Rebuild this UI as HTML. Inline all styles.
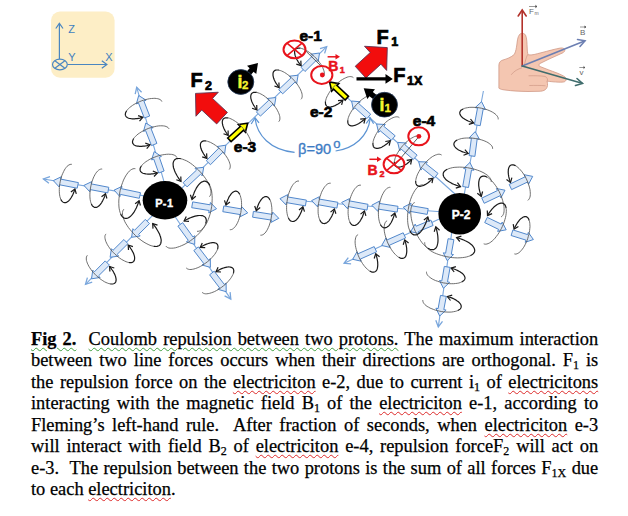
<!DOCTYPE html>
<html><head><meta charset="utf-8"><style>
html,body{margin:0;padding:0;background:#fff;}
body{width:628px;height:516px;position:relative;overflow:hidden;}
.ln{position:absolute;left:31.0px;width:567.20px;font-family:"Liberation Serif",serif;font-size:18.4px;line-height:20px;height:20px;
 text-align:justify;text-align-last:justify;white-space:nowrap;transform:scaleX(1.0);transform-origin:0 0;color:#000;-webkit-text-stroke:0.25px #000;}
.ln.last{text-align-last:left;}
.ln sub{font-size:12px;vertical-align:-3px;line-height:0;}
u.r{text-decoration:underline wavy #dd2a2a;text-decoration-thickness:0.6px;text-underline-offset:1.5px;}
u.g{text-decoration:underline wavy #3f9f3f;text-decoration-thickness:0.6px;text-underline-offset:1.5px;}
</style></head><body>
<svg width="628" height="330" viewBox="0 0 628 330" style="position:absolute;left:0;top:0"><g>
<rect x="51" y="11.5" width="63.6" height="66.2" rx="9" fill="#fdeec6"/>
<g stroke="#4a86c0" stroke-width="1.2" fill="none">
<line x1="59.4" y1="59" x2="59.4" y2="23.8"/><path d="M55.8,28.5 L59.4,23.4 L63,28.5"/>
<line x1="67.5" y1="64.5" x2="106.5" y2="64.5"/><path d="M101.8,60.8 L106.9,64.5 L101.8,68.2"/>
<ellipse cx="59.9" cy="64.5" rx="7.4" ry="5.4"/>
<line x1="55.2" y1="60.9" x2="64.6" y2="68.1"/><line x1="55.2" y1="68.1" x2="64.6" y2="60.9"/>
</g>
<g fill="#3f7fbf" font-family="Liberation Sans" font-size="11">
<text x="68.3" y="33.3">Z</text><text x="68.3" y="61.2">Y</text><text x="105.2" y="61.2">X</text>
</g></g><line x1="169.0" y1="198.9" x2="136.7" y2="87.3" stroke="#79a6dc" stroke-width="1.1"/><path d="M141.6,92.3 L136.7,87.3 L135.2,94.1" fill="none" stroke="#79a6dc" stroke-width="1.3"/><line x1="165.1" y1="199.4" x2="43.4" y2="179.0" stroke="#79a6dc" stroke-width="1.1"/><path d="M50.0,176.7 L43.4,179.0 L48.9,183.3" fill="none" stroke="#79a6dc" stroke-width="1.3"/><line x1="167.3" y1="202.3" x2="326.7" y2="46.7" stroke="#79a6dc" stroke-width="1.1"/><path d="M324.6,53.4 L326.7,46.7 L320.0,48.6" fill="none" stroke="#79a6dc" stroke-width="1.3"/><line x1="164.2" y1="200.5" x2="230.8" y2="299.1" stroke="#79a6dc" stroke-width="1.1"/><path d="M224.6,295.9 L230.8,299.1 L230.1,292.1" fill="none" stroke="#79a6dc" stroke-width="1.3"/><line x1="166.3" y1="201.3" x2="85.5" y2="284.3" stroke="#79a6dc" stroke-width="1.1"/><path d="M87.4,277.6 L85.5,284.3 L92.2,282.2" fill="none" stroke="#79a6dc" stroke-width="1.3"/><line x1="460.6" y1="214.0" x2="483.4" y2="91.0" stroke="#79a6dc" stroke-width="1.1"/><line x1="454.5" y1="213.1" x2="438.3" y2="326.9" stroke="#79a6dc" stroke-width="1.1"/><path d="M435.8,320.3 L438.3,326.9 L442.5,321.3" fill="none" stroke="#79a6dc" stroke-width="1.3"/><line x1="459.7" y1="213.3" x2="280.0" y2="199.2" stroke="#79a6dc" stroke-width="1.1"/><line x1="458.1" y1="210.3" x2="344.1" y2="263.3" stroke="#79a6dc" stroke-width="1.1"/><path d="M348.3,257.7 L344.1,263.3 L351.1,263.8" fill="none" stroke="#79a6dc" stroke-width="1.3"/><line x1="455.0" y1="194.0" x2="347.2" y2="97.7" stroke="#79a6dc" stroke-width="1.1"/><polygon points="144.3,118.0 138.5,103.1 136.4,103.9 138.7,95.5 146.1,100.2 143.9,101.0 149.7,116.0" fill="#dde9f8" stroke="#5288cc" stroke-width="1.0" stroke-linejoin="miter"/><polygon points="151.5,145.6 145.6,130.6 143.5,131.4 145.8,123.0 153.2,127.6 151.0,128.5 156.9,143.4" fill="#dde9f8" stroke="#5288cc" stroke-width="1.0" stroke-linejoin="miter"/><polygon points="158.7,173.0 153.8,159.2 151.6,159.9 154.2,151.6 161.4,156.5 159.3,157.2 164.1,171.0" fill="#dde9f8" stroke="#5288cc" stroke-width="1.0" stroke-linejoin="miter"/><polygon points="77.2,188.2 59.6,184.8 59.2,187.0 53.3,180.6 61.2,176.8 60.7,179.1 78.4,182.6" fill="#dde9f8" stroke="#5288cc" stroke-width="1.0" stroke-linejoin="miter"/><polygon points="107.8,192.9 90.2,189.6 89.8,191.8 83.9,185.4 91.8,181.6 91.3,183.9 108.8,187.3" fill="#dde9f8" stroke="#5288cc" stroke-width="1.0" stroke-linejoin="miter"/><polygon points="139.3,198.3 120.4,194.4 119.9,196.6 114.1,190.1 122.0,186.4 121.5,188.7 140.5,192.7" fill="#dde9f8" stroke="#5288cc" stroke-width="1.0" stroke-linejoin="miter"/><polygon points="183.1,182.7 196.6,170.0 195.0,168.3 203.7,167.3 202.2,175.9 200.6,174.2 187.1,186.9" fill="#dde9f8" stroke="#5288cc" stroke-width="1.0" stroke-linejoin="miter"/><polygon points="206.3,160.7 218.8,148.1 217.2,146.5 225.8,145.2 224.6,153.8 222.9,152.2 210.5,164.7" fill="#dde9f8" stroke="#5288cc" stroke-width="1.0" stroke-linejoin="miter"/><polygon points="227.7,138.0 240.3,126.5 238.4,124.5 247.7,123.1 245.4,132.2 243.6,130.2 231.1,141.6" fill="#ffff00" stroke="#000" stroke-width="1.6" stroke-linejoin="miter"/><polygon points="256.4,111.9 268.8,100.2 267.2,98.5 275.9,97.5 274.4,106.1 272.8,104.4 260.4,116.1" fill="#dde9f8" stroke="#5288cc" stroke-width="1.0" stroke-linejoin="miter"/><polygon points="278.7,89.6 291.0,77.9 289.4,76.2 298.1,75.2 296.6,83.8 295.0,82.1 282.7,93.8" fill="#dde9f8" stroke="#5288cc" stroke-width="1.0" stroke-linejoin="miter"/><polygon points="301.0,67.3 312.5,55.9 310.9,54.2 319.5,53.0 318.2,61.6 316.6,60.0 305.0,71.5" fill="#dde9f8" stroke="#5288cc" stroke-width="1.0" stroke-linejoin="miter"/><polygon points="192.7,201.9 210.1,204.8 210.4,202.5 216.5,208.8 208.7,212.8 209.1,210.5 191.7,207.7" fill="#dde9f8" stroke="#5288cc" stroke-width="1.0" stroke-linejoin="miter"/><polygon points="223.8,205.9 241.3,208.9 241.7,206.6 247.7,212.9 239.9,216.9 240.3,214.6 222.8,211.7" fill="#dde9f8" stroke="#5288cc" stroke-width="1.0" stroke-linejoin="miter"/><polygon points="253.4,211.4 272.3,214.4 272.7,212.1 278.8,218.3 271.1,222.4 271.4,220.1 252.6,217.2" fill="#dde9f8" stroke="#5288cc" stroke-width="1.0" stroke-linejoin="miter"/><polygon points="182.7,222.7 193.0,237.0 194.8,235.7 194.7,244.4 186.4,241.8 188.3,240.4 177.9,226.1" fill="#dde9f8" stroke="#5288cc" stroke-width="1.0" stroke-linejoin="miter"/><polygon points="198.4,246.9 208.5,260.1 210.3,258.7 210.4,267.4 202.0,265.0 203.8,263.6 193.8,250.5" fill="#dde9f8" stroke="#5288cc" stroke-width="1.0" stroke-linejoin="miter"/><polygon points="214.2,271.2 224.3,284.4 226.1,283.0 226.2,291.7 217.8,289.3 219.6,287.9 209.6,274.8" fill="#dde9f8" stroke="#5288cc" stroke-width="1.0" stroke-linejoin="miter"/><polygon points="149.5,223.6 138.6,234.4 140.2,236.0 131.6,237.3 132.9,228.7 134.5,230.3 145.3,219.4" fill="#dde9f8" stroke="#5288cc" stroke-width="1.0" stroke-linejoin="miter"/><polygon points="127.9,243.7 117.1,254.4 118.7,256.1 110.1,257.3 111.4,248.7 113.0,250.3 123.9,239.5" fill="#dde9f8" stroke="#5288cc" stroke-width="1.0" stroke-linejoin="miter"/><polygon points="109.4,265.1 98.5,275.9 100.1,277.5 91.5,278.8 92.8,270.2 94.4,271.8 105.2,260.9" fill="#dde9f8" stroke="#5288cc" stroke-width="1.0" stroke-linejoin="miter"/><polygon points="474.4,124.7 477.5,108.1 475.2,107.6 481.6,101.7 485.5,109.5 483.2,109.1 480.2,125.7" fill="#dde9f8" stroke="#5288cc" stroke-width="1.0" stroke-linejoin="miter"/><polygon points="469.1,155.6 471.4,138.2 469.1,137.9 475.2,131.6 479.4,139.2 477.2,138.9 474.9,156.4" fill="#dde9f8" stroke="#5288cc" stroke-width="1.0" stroke-linejoin="miter"/><polygon points="462.7,186.5 465.8,168.9 463.6,168.5 469.9,162.5 473.8,170.3 471.5,169.9 468.5,187.5" fill="#dde9f8" stroke="#5288cc" stroke-width="1.0" stroke-linejoin="miter"/><polygon points="481.8,198.1 497.4,190.6 496.4,188.5 505.0,190.2 500.9,197.9 499.9,195.8 484.2,203.3" fill="#dde9f8" stroke="#5288cc" stroke-width="1.0" stroke-linejoin="miter"/><polygon points="509.2,184.4 525.1,176.8 524.1,174.7 532.7,176.4 528.6,184.1 527.6,182.0 511.6,189.6" fill="#dde9f8" stroke="#5288cc" stroke-width="1.0" stroke-linejoin="miter"/><polygon points="487.3,217.4 501.2,224.1 502.2,222.1 506.2,229.8 497.6,231.4 498.6,229.4 484.7,222.6" fill="#dde9f8" stroke="#5288cc" stroke-width="1.0" stroke-linejoin="miter"/><polygon points="512.9,229.9 527.6,234.6 528.3,232.4 533.4,239.5 525.2,242.3 525.9,240.1 511.1,235.5" fill="#dde9f8" stroke="#5288cc" stroke-width="1.0" stroke-linejoin="miter"/><polygon points="453.9,239.7 451.3,254.2 453.5,254.6 447.2,260.6 443.3,252.8 445.6,253.2 448.1,238.7" fill="#dde9f8" stroke="#5288cc" stroke-width="1.0" stroke-linejoin="miter"/><polygon points="450.1,267.4 447.5,281.9 449.7,282.3 443.4,288.3 439.5,280.5 441.8,280.9 444.3,266.4" fill="#dde9f8" stroke="#5288cc" stroke-width="1.0" stroke-linejoin="miter"/><polygon points="446.3,296.4 443.8,309.6 446.1,310.1 439.7,316.0 435.9,308.2 438.1,308.6 440.5,295.4" fill="#dde9f8" stroke="#5288cc" stroke-width="1.0" stroke-linejoin="miter"/><polygon points="305.4,205.9 286.4,202.6 286.0,204.9 280.0,198.6 287.8,194.6 287.4,196.9 306.4,200.1" fill="#dde9f8" stroke="#5288cc" stroke-width="1.0" stroke-linejoin="miter"/><polygon points="336.9,208.1 318.0,204.7 317.6,206.9 311.6,200.6 319.4,196.7 319.0,199.0 337.9,202.3" fill="#dde9f8" stroke="#5288cc" stroke-width="1.0" stroke-linejoin="miter"/><polygon points="367.0,210.1 348.1,206.5 347.6,208.8 341.7,202.4 349.5,198.6 349.1,200.8 368.0,204.3" fill="#dde9f8" stroke="#5288cc" stroke-width="1.0" stroke-linejoin="miter"/><polygon points="397.2,212.1 378.3,209.1 377.9,211.4 371.8,205.2 379.5,201.1 379.2,203.4 398.0,206.3" fill="#dde9f8" stroke="#5288cc" stroke-width="1.0" stroke-linejoin="miter"/><polygon points="427.2,214.4 409.7,211.3 409.3,213.5 403.3,207.2 411.1,203.3 410.7,205.6 428.2,208.6" fill="#dde9f8" stroke="#5288cc" stroke-width="1.0" stroke-linejoin="miter"/><polygon points="433.1,225.5 418.3,231.6 419.2,233.7 410.7,231.6 415.2,224.1 416.1,226.2 430.9,220.1" fill="#dde9f8" stroke="#5288cc" stroke-width="1.0" stroke-linejoin="miter"/><polygon points="405.6,238.0 389.3,245.3 390.2,247.4 381.7,245.5 386.0,237.9 386.9,240.0 403.2,232.8" fill="#dde9f8" stroke="#5288cc" stroke-width="1.0" stroke-linejoin="miter"/><polygon points="376.6,251.8 360.3,259.1 361.2,261.2 352.7,259.3 357.0,251.7 357.9,253.8 374.2,246.6" fill="#dde9f8" stroke="#5288cc" stroke-width="1.0" stroke-linejoin="miter"/><polygon points="345.1,100.0 333.6,89.2 331.7,91.1 329.6,82.0 338.8,83.6 337.0,85.5 348.5,96.4" fill="#ffff00" stroke="#000" stroke-width="1.6" stroke-linejoin="miter"/><polygon points="366.9,118.6 354.9,107.8 353.3,109.5 351.6,101.0 360.3,101.8 358.7,103.5 370.7,114.2" fill="#dde9f8" stroke="#5288cc" stroke-width="1.0" stroke-linejoin="miter"/><polygon points="391.4,140.2 380.1,130.7 378.6,132.5 376.6,124.0 385.3,124.5 383.8,126.3 395.2,135.8" fill="#dde9f8" stroke="#5288cc" stroke-width="1.0" stroke-linejoin="miter"/><polygon points="413.3,159.5 401.1,149.1 399.7,150.9 397.7,142.4 406.4,143.0 404.9,144.7 417.1,155.1" fill="#dde9f8" stroke="#5288cc" stroke-width="1.0" stroke-linejoin="miter"/><polygon points="434.4,178.0 422.4,168.3 420.9,170.1 418.7,161.7 427.4,162.0 426.0,163.8 438.0,173.4" fill="#dde9f8" stroke="#5288cc" stroke-width="1.0" stroke-linejoin="miter"/><path d="M161.9,101.6 L161.5,100.8 L160.9,100.1 L160.1,99.5 L159.0,99.1 L157.8,98.7 L156.4,98.5 L154.9,98.3 L153.2,98.4 L151.5,98.5 L149.6,98.7 L147.7,99.1 L145.7,99.6 L143.7,100.1 L141.7,100.8 L139.7,101.6 L137.8,102.5 L135.9,103.4 L134.1,104.4 L132.5,105.4 L131.0,106.5 L129.6,107.6 L128.4,108.7 L127.4,109.8 L126.6,110.9" fill="none" stroke="#555" stroke-width="0.85"/><path d="M169.1,129.0 L168.6,128.2 L168.0,127.5 L167.2,127.0 L166.1,126.5 L164.9,126.1 L163.5,125.9 L162.0,125.8 L160.4,125.8 L158.6,125.9 L156.7,126.2 L154.8,126.6 L152.8,127.0 L150.8,127.6 L148.8,128.3 L146.8,129.1 L144.9,130.0 L143.0,130.9 L141.3,131.9 L139.6,133.0 L138.1,134.0 L136.7,135.2 L135.6,136.3 L134.5,137.4 L133.7,138.5" fill="none" stroke="#555" stroke-width="0.85"/><path d="M177.0,157.7 L176.6,156.9 L176.0,156.2 L175.2,155.6 L174.2,155.1 L173.0,154.7 L171.6,154.4 L170.1,154.3 L168.4,154.2 L166.6,154.3 L164.8,154.5 L162.8,154.8 L160.8,155.2 L158.8,155.7 L156.8,156.3 L154.8,157.1 L152.8,157.9 L150.9,158.7 L149.1,159.7 L147.5,160.7 L145.9,161.7 L144.5,162.8 L143.3,163.8 L142.2,164.9 L141.4,166.0" fill="none" stroke="#555" stroke-width="0.85"/><path d="M71.8,164.3 L70.9,164.3 L70.0,164.5 L69.0,164.9 L68.1,165.5 L67.1,166.3 L66.2,167.4 L65.3,168.6 L64.4,170.0 L63.6,171.6 L62.8,173.3 L62.0,175.1 L61.4,177.0 L60.8,179.0 L60.3,181.1 L59.9,183.2 L59.6,185.3 L59.4,187.4 L59.3,189.4 L59.3,191.3 L59.4,193.2 L59.6,194.9 L59.9,196.6 L60.3,198.0 L60.8,199.3" fill="none" stroke="#555" stroke-width="0.85"/><path d="M102.2,169.1 L101.4,169.0 L100.5,169.2 L99.5,169.6 L98.6,170.2 L97.6,171.1 L96.7,172.1 L95.8,173.3 L94.9,174.8 L94.1,176.3 L93.3,178.0 L92.6,179.9 L91.9,181.8 L91.4,183.8 L90.9,185.9 L90.5,188.0 L90.2,190.1 L90.0,192.1 L89.9,194.2 L89.9,196.1 L90.0,198.0 L90.2,199.7 L90.5,201.3 L90.9,202.8 L91.4,204.0" fill="none" stroke="#555" stroke-width="0.85"/><path d="M135.4,168.7 L134.2,168.6 L133.0,168.8 L131.8,169.3 L130.6,170.1 L129.3,171.1 L128.1,172.5 L126.9,174.1 L125.7,175.9 L124.6,177.9 L123.5,180.1 L122.6,182.5 L121.7,185.0 L120.9,187.6 L120.2,190.3 L119.7,193.0 L119.3,195.7 L119.0,198.4 L118.8,201.0 L118.8,203.5 L118.9,206.0 L119.1,208.2 L119.5,210.3 L120.0,212.2 L120.6,213.9" fill="none" stroke="#555" stroke-width="0.85"/><path d="M209.4,196.7 L210.1,195.9 L210.6,194.8 L210.9,193.5 L211.0,192.0 L210.8,190.4 L210.4,188.6 L209.8,186.7 L209.0,184.7 L208.0,182.6 L206.8,180.5 L205.4,178.3 L203.8,176.2 L202.2,174.0 L200.4,172.0 L198.5,170.0 L196.5,168.1 L194.4,166.3 L192.4,164.6 L190.3,163.1 L188.3,161.8 L186.3,160.7 L184.3,159.9 L182.5,159.2 L180.8,158.7" fill="none" stroke="#555" stroke-width="0.85"/><path d="M229.2,169.5 L229.7,168.8 L230.1,167.9 L230.2,166.9 L230.3,165.8 L230.1,164.5 L229.7,163.2 L229.2,161.7 L228.5,160.2 L227.7,158.6 L226.7,157.0 L225.6,155.4 L224.4,153.8 L223.0,152.2 L221.6,150.7 L220.1,149.2 L218.5,147.7 L216.9,146.4 L215.3,145.2 L213.6,144.1 L212.0,143.2 L210.5,142.4 L209.0,141.8 L207.5,141.3 L206.2,141.0" fill="none" stroke="#555" stroke-width="0.85"/><path d="M249.8,147.5 L250.4,146.9 L250.8,146.0 L251.0,145.0 L251.1,143.9 L251.0,142.7 L250.7,141.3 L250.3,139.8 L249.7,138.3 L248.9,136.7 L248.0,135.0 L247.0,133.3 L245.8,131.7 L244.5,130.0 L243.2,128.4 L241.7,126.8 L240.2,125.3 L238.7,123.9 L237.1,122.6 L235.6,121.5 L234.0,120.5 L232.5,119.6 L231.0,118.9 L229.6,118.3 L228.3,118.0" fill="none" stroke="#555" stroke-width="0.85"/><path d="M278.7,121.7 L279.3,121.0 L279.7,120.1 L279.9,119.1 L279.9,118.0 L279.8,116.7 L279.5,115.4 L279.0,113.9 L278.4,112.4 L277.6,110.8 L276.7,109.1 L275.6,107.5 L274.4,105.8 L273.1,104.2 L271.7,102.6 L270.3,101.1 L268.7,99.6 L267.2,98.2 L265.6,97.0 L264.0,95.8 L262.4,94.8 L260.9,94.0 L259.4,93.3 L258.0,92.8 L256.7,92.4" fill="none" stroke="#555" stroke-width="0.85"/><path d="M301.0,99.3 L301.6,98.6 L301.9,97.8 L302.2,96.8 L302.2,95.7 L302.1,94.4 L301.8,93.0 L301.3,91.6 L300.7,90.0 L299.9,88.5 L298.9,86.8 L297.9,85.2 L296.7,83.5 L295.4,81.9 L294.0,80.3 L292.5,78.8 L291.0,77.3 L289.4,75.9 L287.8,74.7 L286.2,73.5 L284.6,72.5 L283.1,71.7 L281.6,71.0 L280.2,70.5 L278.9,70.2" fill="none" stroke="#555" stroke-width="0.85"/><path d="M323.2,76.8 L323.8,76.1 L324.1,75.2 L324.3,74.2 L324.3,73.1 L324.2,71.9 L323.8,70.5 L323.3,69.1 L322.7,67.5 L321.8,66.0 L320.9,64.3 L319.7,62.7 L318.5,61.1 L317.2,59.5 L315.7,57.9 L314.2,56.4 L312.7,55.0 L311.1,53.7 L309.5,52.5 L307.8,51.4 L306.2,50.4 L304.7,49.6 L303.2,49.0 L301.7,48.5 L300.4,48.2" fill="none" stroke="#555" stroke-width="0.85"/><path d="M197.0,231.3 L198.2,231.3 L199.3,231.1 L200.5,230.5 L201.7,229.7 L202.9,228.5 L204.1,227.1 L205.3,225.5 L206.4,223.6 L207.4,221.6 L208.3,219.3 L209.2,216.9 L210.0,214.4 L210.7,211.7 L211.2,209.1 L211.7,206.3 L212.0,203.6 L212.1,200.9 L212.2,198.3 L212.1,195.7 L211.9,193.3 L211.6,191.0 L211.1,189.0 L210.5,187.1 L209.8,185.5" fill="none" stroke="#555" stroke-width="0.85"/><path d="M229.8,229.7 L230.7,229.7 L231.6,229.5 L232.5,229.1 L233.4,228.4 L234.4,227.6 L235.3,226.5 L236.2,225.2 L237.0,223.8 L237.8,222.2 L238.5,220.5 L239.2,218.6 L239.8,216.7 L240.3,214.7 L240.8,212.6 L241.1,210.5 L241.4,208.4 L241.5,206.3 L241.6,204.3 L241.5,202.3 L241.4,200.5 L241.1,198.8 L240.7,197.2 L240.3,195.7 L239.8,194.4" fill="none" stroke="#555" stroke-width="0.85"/><path d="M260.4,235.2 L261.3,235.2 L262.2,235.0 L263.1,234.6 L264.1,233.9 L265.0,233.0 L265.9,232.0 L266.7,230.7 L267.6,229.2 L268.3,227.6 L269.1,225.9 L269.7,224.0 L270.3,222.1 L270.8,220.1 L271.2,218.0 L271.5,215.9 L271.7,213.8 L271.9,211.7 L271.9,209.7 L271.8,207.7 L271.6,205.9 L271.3,204.1 L271.0,202.5 L270.5,201.1 L270.0,199.8" fill="none" stroke="#555" stroke-width="0.85"/><path d="M165.9,246.1 L166.6,246.9 L167.6,247.5 L168.8,248.0 L170.2,248.2 L171.8,248.2 L173.5,248.1 L175.4,247.8 L177.4,247.2 L179.5,246.5 L181.7,245.6 L184.0,244.6 L186.2,243.4 L188.4,242.1 L190.6,240.6 L192.8,239.0 L194.9,237.4 L196.8,235.7 L198.6,233.9 L200.3,232.1 L201.8,230.3 L203.1,228.6 L204.2,226.8 L205.1,225.2 L205.7,223.6" fill="none" stroke="#555" stroke-width="0.85"/><path d="M186.2,267.9 L186.9,268.5 L187.7,269.0 L188.6,269.3 L189.7,269.5 L191.0,269.5 L192.4,269.3 L193.9,269.0 L195.5,268.5 L197.2,267.9 L198.9,267.2 L200.6,266.3 L202.4,265.3 L204.2,264.1 L205.9,262.9 L207.6,261.6 L209.2,260.3 L210.7,258.9 L212.1,257.4 L213.4,255.9 L214.6,254.5 L215.6,253.0 L216.4,251.6 L217.1,250.3 L217.6,249.0" fill="none" stroke="#555" stroke-width="0.85"/><path d="M202.0,292.2 L202.7,292.8 L203.5,293.3 L204.4,293.6 L205.5,293.8 L206.8,293.8 L208.2,293.6 L209.7,293.3 L211.3,292.8 L213.0,292.2 L214.7,291.5 L216.4,290.6 L218.2,289.6 L220.0,288.4 L221.7,287.2 L223.4,285.9 L225.0,284.6 L226.5,283.2 L227.9,281.7 L229.2,280.2 L230.4,278.8 L231.4,277.3 L232.2,275.9 L232.9,274.6 L233.4,273.3" fill="none" stroke="#555" stroke-width="0.85"/><path d="M123.9,209.2 L123.2,210.1 L122.7,211.2 L122.5,212.5 L122.4,214.0 L122.7,215.6 L123.1,217.4 L123.8,219.2 L124.6,221.2 L125.7,223.3 L127.0,225.3 L128.4,227.5 L130.1,229.6 L131.8,231.6 L133.7,233.7 L135.6,235.6 L137.7,237.5 L139.8,239.2 L141.9,240.8 L144.0,242.2 L146.1,243.4 L148.1,244.4 L150.0,245.3 L151.9,245.9 L153.6,246.3" fill="none" stroke="#555" stroke-width="0.85"/><path d="M106.0,233.9 L105.5,234.6 L105.1,235.4 L104.9,236.4 L104.9,237.5 L105.1,238.8 L105.4,240.1 L105.9,241.6 L106.6,243.1 L107.4,244.7 L108.4,246.3 L109.5,247.9 L110.7,249.6 L112.1,251.2 L113.5,252.7 L115.0,254.2 L116.6,255.6 L118.2,257.0 L119.8,258.2 L121.4,259.3 L123.0,260.2 L124.6,261.0 L126.1,261.7 L127.5,262.2 L128.8,262.5" fill="none" stroke="#555" stroke-width="0.85"/><path d="M87.4,255.3 L86.8,256.0 L86.5,256.9 L86.3,257.9 L86.3,259.0 L86.4,260.3 L86.8,261.6 L87.3,263.1 L88.0,264.6 L88.8,266.2 L89.8,267.8 L90.9,269.4 L92.1,271.0 L93.5,272.6 L94.9,274.2 L96.4,275.7 L98.0,277.1 L99.6,278.4 L101.2,279.6 L102.8,280.7 L104.4,281.7 L106.0,282.5 L107.5,283.1 L108.9,283.6 L110.3,283.9" fill="none" stroke="#555" stroke-width="0.85"/><path d="M498.2,119.4 L498.2,118.5 L498.0,117.6 L497.6,116.7 L497.0,115.8 L496.1,114.8 L495.1,113.9 L493.9,113.0 L492.4,112.1 L490.9,111.3 L489.1,110.5 L487.3,109.8 L485.4,109.2 L483.3,108.7 L481.3,108.2 L479.2,107.8 L477.1,107.5 L475.0,107.4 L473.0,107.3 L471.0,107.3 L469.2,107.4 L467.4,107.7 L465.8,108.0 L464.4,108.4 L463.1,108.9" fill="none" stroke="#555" stroke-width="0.85"/><path d="M492.6,148.8 L492.6,147.9 L492.4,147.0 L491.9,146.1 L491.2,145.2 L490.3,144.3 L489.2,143.5 L488.0,142.6 L486.5,141.8 L484.9,141.1 L483.1,140.4 L481.3,139.8 L479.3,139.3 L477.2,138.8 L475.2,138.5 L473.0,138.2 L470.9,138.0 L468.9,138.0 L466.8,138.0 L464.9,138.1 L463.0,138.3 L461.3,138.6 L459.7,139.1 L458.3,139.5 L457.1,140.1" fill="none" stroke="#555" stroke-width="0.85"/><path d="M491.2,182.0 L491.3,180.9 L491.0,179.8 L490.5,178.7 L489.7,177.5 L488.6,176.3 L487.3,175.2 L485.7,174.1 L484.0,173.0 L482.0,172.0 L479.8,171.0 L477.5,170.2 L475.1,169.4 L472.6,168.7 L470.0,168.2 L467.4,167.7 L464.7,167.4 L462.2,167.2 L459.6,167.1 L457.2,167.2 L454.9,167.3 L452.7,167.6 L450.7,168.1 L448.9,168.6 L447.3,169.3" fill="none" stroke="#555" stroke-width="0.85"/><path d="M501.1,216.9 L501.9,216.4 L502.6,215.6 L503.2,214.6 L503.7,213.4 L504.0,211.9 L504.1,210.3 L504.1,208.6 L504.0,206.7 L503.7,204.6 L503.2,202.5 L502.6,200.3 L501.9,198.1 L501.1,195.9 L500.1,193.6 L499.1,191.4 L497.9,189.3 L496.7,187.2 L495.4,185.3 L494.0,183.5 L492.7,181.8 L491.3,180.4 L489.9,179.1 L488.5,178.0 L487.2,177.2" fill="none" stroke="#555" stroke-width="0.85"/><path d="M527.7,200.4 L528.4,199.9 L529.0,199.2 L529.5,198.3 L529.9,197.3 L530.2,196.0 L530.3,194.7 L530.3,193.1 L530.2,191.5 L530.0,189.7 L529.6,187.9 L529.1,186.0 L528.4,184.0 L527.7,182.1 L526.9,180.1 L526.0,178.2 L525.0,176.3 L523.9,174.5 L522.8,172.9 L521.6,171.3 L520.4,169.9 L519.2,168.6 L518.0,167.5 L516.8,166.5 L515.7,165.8" fill="none" stroke="#555" stroke-width="0.85"/><path d="M483.7,243.8 L484.7,244.1 L485.7,244.2 L486.9,244.0 L488.1,243.6 L489.4,243.0 L490.8,242.1 L492.2,241.0 L493.6,239.7 L495.0,238.2 L496.3,236.5 L497.7,234.7 L499.0,232.7 L500.2,230.7 L501.4,228.5 L502.4,226.3 L503.4,224.1 L504.2,221.9 L504.9,219.6 L505.5,217.5 L505.9,215.4 L506.2,213.4 L506.3,211.5 L506.3,209.7 L506.1,208.2" fill="none" stroke="#555" stroke-width="0.85"/><path d="M514.4,253.9 L515.3,254.1 L516.2,254.0 L517.2,253.7 L518.2,253.2 L519.2,252.5 L520.3,251.6 L521.3,250.4 L522.4,249.1 L523.4,247.7 L524.4,246.1 L525.3,244.3 L526.2,242.5 L527.0,240.6 L527.7,238.6 L528.3,236.5 L528.9,234.5 L529.3,232.5 L529.6,230.5 L529.8,228.5 L530.0,226.7 L529.9,224.9 L529.8,223.3 L529.6,221.8 L529.2,220.5" fill="none" stroke="#555" stroke-width="0.85"/><path d="M424.7,242.3 L424.7,243.4 L424.9,244.6 L425.4,245.8 L426.3,247.0 L427.4,248.2 L428.8,249.4 L430.4,250.6 L432.2,251.7 L434.3,252.8 L436.5,253.7 L438.9,254.6 L441.5,255.4 L444.1,256.1 L446.8,256.7 L449.5,257.2 L452.2,257.6 L454.9,257.8 L457.5,257.9 L460.1,257.8 L462.5,257.6 L464.8,257.3 L466.8,256.9 L468.7,256.3 L470.4,255.7" fill="none" stroke="#555" stroke-width="0.85"/><path d="M426.5,271.7 L426.5,272.6 L426.7,273.5 L427.1,274.4 L427.7,275.4 L428.6,276.3 L429.7,277.2 L430.9,278.1 L432.3,279.0 L433.9,279.8 L435.6,280.6 L437.5,281.2 L439.4,281.9 L441.4,282.4 L443.5,282.9 L445.6,283.2 L447.7,283.5 L449.8,283.7 L451.8,283.7 L453.7,283.7 L455.6,283.5 L457.3,283.3 L458.9,283.0 L460.4,282.5 L461.7,282.0" fill="none" stroke="#555" stroke-width="0.85"/><path d="M422.8,300.0 L422.8,300.8 L423.0,301.7 L423.4,302.7 L424.0,303.6 L424.9,304.6 L425.9,305.5 L427.1,306.4 L428.6,307.2 L430.1,308.1 L431.9,308.8 L433.7,309.5 L435.6,310.2 L437.7,310.7 L439.7,311.2 L441.8,311.6 L443.9,311.9 L446.0,312.0 L448.0,312.1 L450.0,312.1 L451.8,312.0 L453.6,311.7 L455.2,311.4 L456.6,311.0 L457.9,310.5" fill="none" stroke="#555" stroke-width="0.85"/><path d="M299.0,181.1 L298.0,181.0 L297.1,181.2 L296.1,181.7 L295.1,182.4 L294.2,183.3 L293.2,184.4 L292.3,185.7 L291.4,187.2 L290.6,188.9 L289.8,190.7 L289.1,192.6 L288.4,194.7 L287.9,196.8 L287.4,199.0 L287.1,201.2 L286.8,203.4 L286.6,205.5 L286.6,207.7 L286.6,209.7 L286.8,211.7 L287.1,213.5 L287.4,215.2 L287.9,216.7 L288.4,218.0" fill="none" stroke="#555" stroke-width="0.85"/><path d="M330.7,183.2 L329.8,183.2 L328.8,183.4 L327.8,183.8 L326.8,184.5 L325.9,185.4 L324.9,186.5 L324.0,187.8 L323.1,189.3 L322.2,190.9 L321.4,192.7 L320.7,194.7 L320.0,196.7 L319.5,198.8 L319.0,201.0 L318.6,203.2 L318.3,205.4 L318.1,207.6 L318.1,209.7 L318.1,211.8 L318.2,213.7 L318.5,215.5 L318.8,217.2 L319.3,218.7 L319.8,220.1" fill="none" stroke="#555" stroke-width="0.85"/><path d="M360.9,185.2 L360.0,185.1 L359.0,185.3 L358.1,185.7 L357.1,186.4 L356.1,187.3 L355.1,188.4 L354.2,189.7 L353.3,191.2 L352.4,192.8 L351.6,194.6 L350.8,196.6 L350.2,198.6 L349.6,200.7 L349.1,202.9 L348.7,205.1 L348.4,207.3 L348.2,209.4 L348.1,211.6 L348.1,213.6 L348.3,215.6 L348.5,217.4 L348.8,219.1 L349.3,220.6 L349.8,221.9" fill="none" stroke="#555" stroke-width="0.85"/><path d="M390.4,187.4 L389.5,187.3 L388.6,187.6 L387.6,188.0 L386.6,188.7 L385.7,189.6 L384.7,190.8 L383.8,192.1 L383.0,193.6 L382.1,195.3 L381.4,197.1 L380.7,199.1 L380.1,201.1 L379.6,203.3 L379.1,205.4 L378.8,207.6 L378.6,209.8 L378.4,212.0 L378.4,214.2 L378.5,216.2 L378.7,218.2 L379.0,220.0 L379.4,221.7 L379.9,223.2 L380.4,224.5" fill="none" stroke="#555" stroke-width="0.85"/><path d="M423.1,184.9 L422.0,184.9 L420.8,185.1 L419.6,185.7 L418.4,186.5 L417.1,187.6 L416.0,189.0 L414.8,190.6 L413.7,192.5 L412.6,194.5 L411.6,196.8 L410.7,199.2 L409.9,201.7 L409.2,204.3 L408.7,207.0 L408.2,209.7 L407.9,212.5 L407.6,215.2 L407.6,217.8 L407.6,220.3 L407.8,222.8 L408.1,225.0 L408.5,227.1 L409.1,229.0 L409.8,230.6" fill="none" stroke="#555" stroke-width="0.85"/><path d="M414.7,202.5 L413.7,203.1 L412.8,203.9 L412.1,205.0 L411.5,206.4 L411.1,208.0 L410.8,209.8 L410.7,211.8 L410.8,213.9 L411.0,216.2 L411.4,218.7 L411.9,221.2 L412.6,223.7 L413.4,226.3 L414.3,228.9 L415.4,231.5 L416.6,233.9 L417.8,236.3 L419.2,238.6 L420.6,240.7 L422.0,242.7 L423.5,244.4 L425.0,245.9 L426.5,247.2 L427.9,248.2" fill="none" stroke="#555" stroke-width="0.85"/><path d="M387.1,220.7 L386.3,221.2 L385.7,221.9 L385.1,222.8 L384.7,223.9 L384.4,225.2 L384.2,226.6 L384.1,228.2 L384.2,230.0 L384.4,231.8 L384.8,233.8 L385.3,235.8 L385.9,237.8 L386.6,239.9 L387.4,242.0 L388.3,244.0 L389.3,246.0 L390.4,247.9 L391.5,249.7 L392.7,251.4 L393.9,252.9 L395.2,254.3 L396.4,255.5 L397.6,256.5 L398.8,257.3" fill="none" stroke="#555" stroke-width="0.85"/><path d="M358.1,234.5 L357.3,235.0 L356.7,235.7 L356.1,236.6 L355.7,237.7 L355.4,239.0 L355.2,240.4 L355.1,242.0 L355.2,243.8 L355.4,245.6 L355.8,247.6 L356.3,249.6 L356.9,251.6 L357.6,253.7 L358.4,255.8 L359.3,257.8 L360.3,259.8 L361.4,261.7 L362.5,263.5 L363.7,265.2 L364.9,266.7 L366.2,268.1 L367.4,269.3 L368.6,270.3 L369.8,271.1" fill="none" stroke="#555" stroke-width="0.85"/><path d="M353.4,77.6 L352.7,77.1 L351.8,76.8 L350.8,76.6 L349.7,76.6 L348.4,76.8 L347.1,77.2 L345.7,77.8 L344.2,78.5 L342.6,79.4 L341.0,80.4 L339.4,81.6 L337.9,82.8 L336.3,84.2 L334.8,85.7 L333.3,87.3 L332.0,88.9 L330.7,90.5 L329.5,92.2 L328.5,93.8 L327.6,95.5 L326.8,97.0 L326.2,98.6 L325.8,100.0 L325.5,101.4" fill="none" stroke="#555" stroke-width="0.85"/><path d="M375.1,95.8 L374.3,95.3 L373.5,95.0 L372.5,94.9 L371.3,94.9 L370.1,95.2 L368.8,95.6 L367.3,96.2 L365.9,96.9 L364.3,97.9 L362.8,98.9 L361.2,100.1 L359.7,101.5 L358.2,102.9 L356.7,104.4 L355.3,106.0 L353.9,107.6 L352.7,109.3 L351.6,111.0 L350.6,112.7 L349.7,114.3 L349.0,115.9 L348.4,117.5 L348.0,118.9 L347.8,120.3" fill="none" stroke="#555" stroke-width="0.85"/><path d="M399.4,117.7 L398.7,117.2 L397.8,116.9 L396.8,116.8 L395.6,116.9 L394.4,117.2 L393.1,117.6 L391.7,118.3 L390.2,119.1 L388.7,120.0 L387.2,121.1 L385.7,122.4 L384.2,123.8 L382.7,125.3 L381.3,126.8 L379.9,128.5 L378.7,130.1 L377.5,131.9 L376.4,133.6 L375.5,135.3 L374.7,137.0 L374.0,138.6 L373.5,140.2 L373.1,141.6 L373.0,143.0" fill="none" stroke="#555" stroke-width="0.85"/><path d="M421.0,136.6 L420.3,136.1 L419.4,135.9 L418.4,135.7 L417.2,135.8 L416.0,136.1 L414.7,136.5 L413.3,137.2 L411.8,138.0 L410.3,138.9 L408.8,140.0 L407.3,141.3 L405.7,142.6 L404.3,144.1 L402.8,145.6 L401.4,147.3 L400.2,148.9 L399.0,150.6 L397.9,152.4 L396.9,154.1 L396.1,155.7 L395.4,157.4 L394.9,158.9 L394.6,160.4 L394.4,161.7" fill="none" stroke="#555" stroke-width="0.85"/><path d="M441.6,155.0 L440.8,154.6 L439.9,154.3 L438.9,154.2 L437.8,154.3 L436.6,154.7 L435.3,155.1 L433.9,155.8 L432.4,156.6 L431.0,157.6 L429.5,158.8 L428.0,160.1 L426.5,161.5 L425.1,163.0 L423.7,164.6 L422.4,166.3 L421.1,168.0 L420.0,169.7 L419.0,171.5 L418.1,173.2 L417.3,174.9 L416.7,176.5 L416.2,178.1 L415.9,179.6 L415.7,180.9" fill="none" stroke="#555" stroke-width="0.85"/><path d="M126.6,110.9 L126.1,111.7 L125.7,112.5 L125.5,113.2 L125.4,113.9 L125.3,114.6 L125.4,115.2 L125.6,115.8 L126.0,116.3 L126.4,116.8 L126.9,117.3 L127.6,117.7 L128.3,118.0 L129.1,118.3 L130.1,118.5 L131.1,118.7 L132.2,118.8 L133.3,118.8 L134.5,118.8 L135.8,118.7 L137.1,118.6 L138.5,118.3 L139.9,118.1 L141.3,117.7 L142.8,117.3" fill="none" stroke="#1a1a1a" stroke-width="1.2"/><path d="M139.5,121.1 L142.8,117.3 L138.1,115.6" fill="none" stroke="#1a1a1a" stroke-width="1.2"/><path d="M133.7,138.5 L133.3,139.3 L132.9,140.0 L132.7,140.8 L132.5,141.5 L132.5,142.1 L132.6,142.8 L132.8,143.4 L133.2,143.9 L133.6,144.4 L134.1,144.9 L134.8,145.3 L135.5,145.6 L136.3,145.9 L137.3,146.1 L138.3,146.2 L139.4,146.3 L140.5,146.4 L141.7,146.3 L143.0,146.2 L144.3,146.1 L145.7,145.9 L147.1,145.6 L148.5,145.2 L150.0,144.8" fill="none" stroke="#1a1a1a" stroke-width="1.2"/><path d="M146.7,148.6 L150.0,144.8 L145.3,143.1" fill="none" stroke="#1a1a1a" stroke-width="1.2"/><path d="M141.4,166.0 L140.9,166.8 L140.5,167.5 L140.2,168.2 L140.1,168.9 L140.1,169.6 L140.1,170.2 L140.3,170.8 L140.6,171.4 L141.0,171.9 L141.6,172.4 L142.2,172.8 L142.9,173.2 L143.7,173.5 L144.7,173.7 L145.7,173.9 L146.7,174.0 L147.9,174.1 L149.1,174.1 L150.4,174.1 L151.7,173.9 L153.1,173.8 L154.5,173.5 L156.0,173.2 L157.4,172.9" fill="none" stroke="#1a1a1a" stroke-width="1.2"/><path d="M154.0,176.5 L157.4,172.9 L152.8,171.0" fill="none" stroke="#1a1a1a" stroke-width="1.2"/><path d="M60.8,199.3 L61.2,200.1 L61.7,200.8 L62.2,201.4 L62.7,201.9 L63.3,202.3 L63.8,202.5 L64.5,202.7 L65.1,202.7 L65.7,202.6 L66.4,202.4 L67.1,202.0 L67.8,201.6 L68.5,201.0 L69.1,200.4 L69.8,199.6 L70.5,198.7 L71.1,197.8 L71.7,196.7 L72.3,195.6 L72.9,194.4 L73.5,193.1 L74.0,191.8 L74.5,190.4 L74.9,189.0" fill="none" stroke="#1a1a1a" stroke-width="1.2"/><path d="M76.3,193.8 L74.9,189.0 L70.9,192.0" fill="none" stroke="#1a1a1a" stroke-width="1.2"/><path d="M91.4,204.0 L91.8,204.9 L92.3,205.6 L92.8,206.2 L93.3,206.6 L93.9,207.0 L94.5,207.3 L95.1,207.4 L95.7,207.4 L96.4,207.3 L97.0,207.1 L97.7,206.8 L98.4,206.3 L99.1,205.8 L99.7,205.1 L100.4,204.3 L101.1,203.5 L101.7,202.5 L102.3,201.4 L102.9,200.3 L103.5,199.1 L104.1,197.8 L104.6,196.5 L105.0,195.1 L105.5,193.7" fill="none" stroke="#1a1a1a" stroke-width="1.2"/><path d="M106.9,198.5 L105.5,193.7 L101.5,196.7" fill="none" stroke="#1a1a1a" stroke-width="1.2"/><path d="M120.6,213.9 L121.1,214.9 L121.7,215.9 L122.3,216.7 L123.0,217.3 L123.7,217.8 L124.5,218.1 L125.3,218.3 L126.1,218.4 L126.9,218.3 L127.8,218.0 L128.7,217.6 L129.6,217.0 L130.5,216.3 L131.4,215.4 L132.3,214.4 L133.1,213.3 L134.0,212.1 L134.8,210.7 L135.6,209.3 L136.4,207.7 L137.1,206.1 L137.8,204.3 L138.5,202.6 L139.1,200.7" fill="none" stroke="#1a1a1a" stroke-width="1.2"/><path d="M140.4,205.5 L139.1,200.7 L135.1,203.7" fill="none" stroke="#1a1a1a" stroke-width="1.2"/><path d="M180.8,158.7 L179.6,158.5 L178.5,158.5 L177.5,158.6 L176.6,158.7 L175.8,159.0 L175.1,159.5 L174.5,160.0 L174.0,160.7 L173.6,161.4 L173.3,162.3 L173.1,163.3 L173.1,164.3 L173.2,165.5 L173.3,166.7 L173.6,168.0 L174.1,169.3 L174.6,170.7 L175.2,172.2 L176.0,173.7 L176.8,175.2 L177.7,176.8 L178.7,178.3 L179.8,179.9 L181.0,181.4" fill="none" stroke="#1a1a1a" stroke-width="1.2"/><path d="M176.3,179.8 L181.0,181.4 L180.8,176.4" fill="none" stroke="#1a1a1a" stroke-width="1.2"/><path d="M206.2,141.0 L205.3,140.9 L204.4,140.9 L203.7,140.9 L203.0,141.1 L202.4,141.4 L201.8,141.7 L201.4,142.1 L201.0,142.6 L200.7,143.2 L200.5,143.9 L200.4,144.7 L200.4,145.5 L200.5,146.3 L200.7,147.3 L200.9,148.3 L201.3,149.3 L201.7,150.4 L202.3,151.5 L202.9,152.6 L203.5,153.8 L204.3,154.9 L205.1,156.1 L206.0,157.3 L206.9,158.4" fill="none" stroke="#1a1a1a" stroke-width="1.2"/><path d="M202.2,156.9 L206.9,158.4 L206.6,153.4" fill="none" stroke="#1a1a1a" stroke-width="1.2"/><path d="M228.3,118.0 L227.4,117.8 L226.5,117.8 L225.8,117.8 L225.1,117.9 L224.4,118.2 L223.9,118.5 L223.4,118.9 L223.0,119.4 L222.7,120.0 L222.5,120.6 L222.3,121.4 L222.3,122.2 L222.3,123.0 L222.5,124.0 L222.7,125.0 L223.0,126.0 L223.4,127.1 L223.8,128.3 L224.4,129.4 L225.0,130.6 L225.7,131.8 L226.5,133.0 L227.3,134.2 L228.2,135.4" fill="none" stroke="#1a1a1a" stroke-width="1.2"/><path d="M223.5,133.7 L228.2,135.4 L228.1,130.4" fill="none" stroke="#1a1a1a" stroke-width="1.2"/><path d="M256.7,92.4 L255.8,92.3 L254.9,92.3 L254.2,92.3 L253.5,92.4 L252.8,92.7 L252.3,93.0 L251.8,93.4 L251.4,93.9 L251.1,94.5 L250.9,95.2 L250.8,95.9 L250.7,96.7 L250.8,97.6 L250.9,98.6 L251.2,99.5 L251.5,100.6 L251.9,101.7 L252.4,102.8 L253.0,104.0 L253.6,105.1 L254.3,106.3 L255.1,107.5 L256.0,108.7 L256.9,109.9" fill="none" stroke="#1a1a1a" stroke-width="1.2"/><path d="M252.1,108.2 L256.9,109.9 L256.7,104.9" fill="none" stroke="#1a1a1a" stroke-width="1.2"/><path d="M278.9,70.2 L278.0,70.0 L277.1,70.0 L276.4,70.0 L275.7,70.2 L275.0,70.4 L274.5,70.8 L274.0,71.2 L273.6,71.7 L273.3,72.3 L273.1,72.9 L273.0,73.7 L273.0,74.5 L273.0,75.4 L273.2,76.3 L273.4,77.3 L273.7,78.3 L274.1,79.4 L274.6,80.5 L275.2,81.7 L275.8,82.9 L276.6,84.0 L277.4,85.2 L278.2,86.4 L279.1,87.6" fill="none" stroke="#1a1a1a" stroke-width="1.2"/><path d="M274.4,86.0 L279.1,87.6 L278.9,82.6" fill="none" stroke="#1a1a1a" stroke-width="1.2"/><path d="M300.4,48.2 L299.5,48.1 L298.7,48.0 L297.9,48.1 L297.2,48.3 L296.6,48.5 L296.0,48.9 L295.6,49.3 L295.2,49.8 L294.9,50.4 L294.7,51.1 L294.6,51.8 L294.6,52.6 L294.7,53.5 L294.9,54.4 L295.1,55.4 L295.5,56.5 L295.9,57.5 L296.4,58.6 L297.0,59.8 L297.7,60.9 L298.4,62.1 L299.3,63.3 L300.1,64.4 L301.1,65.6" fill="none" stroke="#1a1a1a" stroke-width="1.2"/><path d="M296.3,64.1 L301.1,65.6 L300.8,60.6" fill="none" stroke="#1a1a1a" stroke-width="1.2"/><path d="M209.8,185.5 L209.3,184.4 L208.7,183.5 L208.0,182.8 L207.3,182.2 L206.6,181.7 L205.8,181.4 L205.0,181.2 L204.2,181.2 L203.3,181.4 L202.5,181.7 L201.6,182.1 L200.7,182.7 L199.9,183.5 L199.0,184.4 L198.2,185.4 L197.3,186.6 L196.5,187.8 L195.8,189.2 L195.0,190.7 L194.3,192.3 L193.7,194.0 L193.0,195.7 L192.5,197.5 L192.0,199.4" fill="none" stroke="#1a1a1a" stroke-width="1.2"/><path d="M190.4,194.7 L192.0,199.4 L195.8,196.2" fill="none" stroke="#1a1a1a" stroke-width="1.2"/><path d="M239.8,194.4 L239.3,193.6 L238.9,193.0 L238.4,192.4 L237.8,191.9 L237.3,191.5 L236.7,191.3 L236.1,191.2 L235.4,191.2 L234.8,191.3 L234.1,191.5 L233.4,191.9 L232.8,192.3 L232.1,192.9 L231.4,193.6 L230.8,194.4 L230.2,195.3 L229.5,196.2 L228.9,197.3 L228.4,198.5 L227.8,199.7 L227.3,201.0 L226.8,202.3 L226.4,203.7 L226.0,205.1" fill="none" stroke="#1a1a1a" stroke-width="1.2"/><path d="M224.5,200.4 L226.0,205.1 L229.9,202.0" fill="none" stroke="#1a1a1a" stroke-width="1.2"/><path d="M270.0,199.8 L269.5,199.1 L269.1,198.4 L268.5,197.8 L268.0,197.3 L267.4,197.0 L266.8,196.7 L266.2,196.6 L265.6,196.6 L264.9,196.7 L264.3,197.0 L263.6,197.3 L262.9,197.8 L262.3,198.4 L261.6,199.1 L261.0,199.9 L260.4,200.8 L259.8,201.8 L259.2,202.8 L258.6,204.0 L258.1,205.2 L257.6,206.5 L257.1,207.9 L256.7,209.3 L256.3,210.7" fill="none" stroke="#1a1a1a" stroke-width="1.2"/><path d="M254.7,206.0 L256.3,210.7 L260.2,207.5" fill="none" stroke="#1a1a1a" stroke-width="1.2"/><path d="M205.7,223.6 L206.0,222.5 L206.2,221.5 L206.3,220.5 L206.2,219.6 L206.0,218.8 L205.7,218.1 L205.3,217.4 L204.7,216.9 L204.1,216.4 L203.3,216.0 L202.4,215.7 L201.4,215.6 L200.3,215.5 L199.1,215.5 L197.8,215.6 L196.5,215.8 L195.1,216.2 L193.6,216.6 L192.1,217.1 L190.5,217.7 L188.9,218.4 L187.3,219.2 L185.7,220.0 L184.1,221.0" fill="none" stroke="#1a1a1a" stroke-width="1.2"/><path d="M186.3,216.5 L184.1,221.0 L189.0,221.4" fill="none" stroke="#1a1a1a" stroke-width="1.2"/><path d="M217.6,249.0 L217.8,248.1 L217.9,247.3 L218.0,246.5 L217.9,245.8 L217.7,245.1 L217.5,244.6 L217.1,244.1 L216.6,243.6 L216.1,243.3 L215.4,243.0 L214.7,242.8 L213.9,242.7 L213.0,242.6 L212.1,242.7 L211.1,242.8 L210.0,243.0 L208.9,243.3 L207.7,243.7 L206.5,244.1 L205.3,244.6 L204.0,245.2 L202.7,245.9 L201.5,246.6 L200.2,247.4" fill="none" stroke="#1a1a1a" stroke-width="1.2"/><path d="M202.3,242.9 L200.2,247.4 L205.2,247.7" fill="none" stroke="#1a1a1a" stroke-width="1.2"/><path d="M233.4,273.3 L233.6,272.4 L233.7,271.6 L233.8,270.8 L233.7,270.1 L233.5,269.4 L233.3,268.9 L232.9,268.4 L232.4,267.9 L231.9,267.6 L231.2,267.3 L230.5,267.1 L229.7,267.0 L228.8,266.9 L227.9,267.0 L226.9,267.1 L225.8,267.3 L224.7,267.6 L223.5,268.0 L222.3,268.4 L221.1,268.9 L219.8,269.5 L218.5,270.2 L217.3,270.9 L216.0,271.7" fill="none" stroke="#1a1a1a" stroke-width="1.2"/><path d="M218.1,267.2 L216.0,271.7 L221.0,272.0" fill="none" stroke="#1a1a1a" stroke-width="1.2"/><path d="M153.6,246.3 L154.8,246.4 L155.9,246.5 L156.9,246.4 L157.8,246.2 L158.6,245.8 L159.3,245.4 L159.9,244.8 L160.4,244.2 L160.8,243.4 L161.0,242.5 L161.1,241.5 L161.2,240.5 L161.1,239.3 L160.8,238.1 L160.5,236.8 L160.0,235.5 L159.5,234.1 L158.8,232.7 L158.0,231.2 L157.1,229.7 L156.2,228.2 L155.1,226.7 L153.9,225.1 L152.7,223.6" fill="none" stroke="#1a1a1a" stroke-width="1.2"/><path d="M157.5,225.1 L152.7,223.6 L153.0,228.6" fill="none" stroke="#1a1a1a" stroke-width="1.2"/><path d="M128.8,262.5 L129.7,262.6 L130.6,262.6 L131.3,262.6 L132.0,262.4 L132.7,262.1 L133.2,261.8 L133.7,261.4 L134.0,260.9 L134.3,260.3 L134.5,259.6 L134.6,258.8 L134.6,258.0 L134.6,257.2 L134.4,256.2 L134.1,255.2 L133.8,254.2 L133.4,253.1 L132.8,252.0 L132.2,250.9 L131.6,249.7 L130.8,248.6 L130.0,247.4 L129.1,246.2 L128.2,245.0" fill="none" stroke="#1a1a1a" stroke-width="1.2"/><path d="M132.9,246.6 L128.2,245.0 L128.5,250.0" fill="none" stroke="#1a1a1a" stroke-width="1.2"/><path d="M110.3,283.9 L111.2,284.0 L112.0,284.0 L112.8,284.0 L113.5,283.8 L114.1,283.5 L114.6,283.2 L115.1,282.8 L115.5,282.3 L115.8,281.7 L116.0,281.0 L116.1,280.2 L116.1,279.4 L116.0,278.6 L115.8,277.6 L115.6,276.6 L115.2,275.6 L114.8,274.5 L114.2,273.4 L113.6,272.3 L113.0,271.1 L112.2,270.0 L111.4,268.8 L110.5,267.6 L109.6,266.5" fill="none" stroke="#1a1a1a" stroke-width="1.2"/><path d="M114.3,268.0 L109.6,266.5 L109.9,271.5" fill="none" stroke="#1a1a1a" stroke-width="1.2"/><path d="M463.1,108.9 L462.3,109.4 L461.6,109.8 L461.0,110.3 L460.5,110.8 L460.2,111.4 L459.9,112.0 L459.8,112.6 L459.8,113.2 L459.9,113.9 L460.1,114.6 L460.4,115.2 L460.9,115.9 L461.5,116.6 L462.1,117.3 L462.9,117.9 L463.8,118.6 L464.8,119.2 L465.8,119.8 L466.9,120.4 L468.2,121.0 L469.4,121.5 L470.8,122.0 L472.2,122.5 L473.6,122.9" fill="none" stroke="#1a1a1a" stroke-width="1.2"/><path d="M468.8,124.3 L473.6,122.9 L470.5,119.0" fill="none" stroke="#1a1a1a" stroke-width="1.2"/><path d="M457.1,140.1 L456.3,140.6 L455.6,141.1 L455.0,141.6 L454.6,142.1 L454.2,142.7 L454.0,143.3 L453.9,144.0 L453.9,144.6 L454.1,145.2 L454.3,145.9 L454.7,146.5 L455.2,147.2 L455.8,147.8 L456.5,148.5 L457.3,149.1 L458.2,149.7 L459.2,150.3 L460.3,150.8 L461.5,151.4 L462.7,151.9 L464.0,152.3 L465.4,152.8 L466.8,153.2 L468.2,153.5" fill="none" stroke="#1a1a1a" stroke-width="1.2"/><path d="M463.5,155.2 L468.2,153.5 L464.9,149.7" fill="none" stroke="#1a1a1a" stroke-width="1.2"/><path d="M447.3,169.3 L446.3,169.8 L445.4,170.4 L444.7,171.0 L444.1,171.7 L443.6,172.4 L443.3,173.1 L443.2,173.9 L443.2,174.7 L443.3,175.5 L443.6,176.3 L444.0,177.1 L444.6,178.0 L445.3,178.8 L446.1,179.7 L447.1,180.5 L448.2,181.3 L449.4,182.1 L450.8,182.8 L452.2,183.6 L453.7,184.3 L455.3,184.9 L457.0,185.5 L458.7,186.1 L460.5,186.6" fill="none" stroke="#1a1a1a" stroke-width="1.2"/><path d="M455.8,188.1 L460.5,186.6 L457.4,182.7" fill="none" stroke="#1a1a1a" stroke-width="1.2"/><path d="M487.2,177.2 L486.3,176.7 L485.4,176.4 L484.5,176.2 L483.7,176.1 L482.9,176.1 L482.2,176.3 L481.5,176.6 L480.9,177.0 L480.4,177.5 L479.9,178.2 L479.5,178.9 L479.2,179.8 L479.0,180.8 L478.8,181.9 L478.7,183.0 L478.7,184.3 L478.7,185.6 L478.9,187.0 L479.1,188.5 L479.4,190.0 L479.8,191.6 L480.2,193.1 L480.7,194.7 L481.3,196.4" fill="none" stroke="#1a1a1a" stroke-width="1.2"/><path d="M477.3,193.3 L481.3,196.4 L482.6,191.5" fill="none" stroke="#1a1a1a" stroke-width="1.2"/><path d="M515.7,165.8 L514.8,165.4 L514.1,165.1 L513.3,164.9 L512.6,164.8 L511.9,164.9 L511.3,165.0 L510.7,165.3 L510.2,165.6 L509.7,166.1 L509.3,166.7 L509.0,167.3 L508.7,168.1 L508.5,168.9 L508.3,169.9 L508.3,170.9 L508.2,172.0 L508.3,173.1 L508.4,174.4 L508.6,175.6 L508.8,176.9 L509.2,178.3 L509.5,179.7 L510.0,181.1 L510.5,182.5" fill="none" stroke="#1a1a1a" stroke-width="1.2"/><path d="M506.5,179.5 L510.5,182.5 L511.9,177.7" fill="none" stroke="#1a1a1a" stroke-width="1.2"/><path d="M506.1,208.2 L505.9,207.2 L505.6,206.2 L505.2,205.4 L504.8,204.7 L504.3,204.2 L503.7,203.7 L503.1,203.4 L502.4,203.2 L501.6,203.1 L500.8,203.1 L500.0,203.3 L499.1,203.6 L498.2,204.0 L497.2,204.5 L496.2,205.2 L495.2,206.0 L494.2,206.8 L493.2,207.8 L492.2,208.9 L491.2,210.1 L490.3,211.3 L489.3,212.7 L488.4,214.1 L487.5,215.5" fill="none" stroke="#1a1a1a" stroke-width="1.2"/><path d="M487.3,210.5 L487.5,215.5 L492.1,213.6" fill="none" stroke="#1a1a1a" stroke-width="1.2"/><path d="M529.2,220.5 L528.9,219.6 L528.6,218.9 L528.1,218.2 L527.7,217.7 L527.2,217.2 L526.6,216.9 L526.0,216.7 L525.4,216.6 L524.7,216.6 L524.0,216.8 L523.3,217.0 L522.6,217.4 L521.9,217.9 L521.1,218.4 L520.4,219.1 L519.6,219.9 L518.9,220.8 L518.1,221.8 L517.4,222.8 L516.7,224.0 L516.0,225.2 L515.3,226.4 L514.7,227.7 L514.1,229.1" fill="none" stroke="#1a1a1a" stroke-width="1.2"/><path d="M513.2,224.2 L514.1,229.1 L518.4,226.5" fill="none" stroke="#1a1a1a" stroke-width="1.2"/><path d="M470.4,255.7 L471.4,255.1 L472.3,254.5 L473.1,253.9 L473.7,253.2 L474.2,252.4 L474.5,251.7 L474.7,250.9 L474.7,250.0 L474.5,249.2 L474.2,248.3 L473.8,247.5 L473.2,246.6 L472.5,245.7 L471.6,244.8 L470.6,244.0 L469.4,243.1 L468.2,242.3 L466.8,241.5 L465.3,240.8 L463.7,240.0 L462.1,239.4 L460.3,238.7 L458.5,238.1 L456.6,237.6" fill="none" stroke="#1a1a1a" stroke-width="1.2"/><path d="M461.4,236.1 L456.6,237.6 L459.8,241.5" fill="none" stroke="#1a1a1a" stroke-width="1.2"/><path d="M461.7,282.0 L462.5,281.6 L463.2,281.1 L463.7,280.6 L464.2,280.1 L464.6,279.5 L464.8,279.0 L465.0,278.3 L465.0,277.7 L464.9,277.1 L464.6,276.4 L464.3,275.7 L463.8,275.0 L463.3,274.4 L462.6,273.7 L461.8,273.0 L460.9,272.4 L460.0,271.8 L458.9,271.2 L457.8,270.6 L456.5,270.0 L455.3,269.5 L453.9,269.0 L452.5,268.6 L451.1,268.1" fill="none" stroke="#1a1a1a" stroke-width="1.2"/><path d="M455.9,266.6 L451.1,268.1 L454.2,272.0" fill="none" stroke="#1a1a1a" stroke-width="1.2"/><path d="M457.9,310.5 L458.7,310.1 L459.4,309.6 L460.0,309.1 L460.5,308.6 L460.8,308.0 L461.1,307.4 L461.2,306.8 L461.2,306.2 L461.1,305.5 L460.9,304.9 L460.6,304.2 L460.1,303.5 L459.5,302.8 L458.9,302.2 L458.1,301.5 L457.2,300.9 L456.3,300.2 L455.2,299.6 L454.1,299.0 L452.8,298.4 L451.6,297.9 L450.2,297.4 L448.8,297.0 L447.4,296.5" fill="none" stroke="#1a1a1a" stroke-width="1.2"/><path d="M452.2,295.1 L447.4,296.5 L450.5,300.5" fill="none" stroke="#1a1a1a" stroke-width="1.2"/><path d="M288.4,218.0 L288.9,218.9 L289.4,219.6 L289.9,220.2 L290.5,220.7 L291.1,221.1 L291.7,221.3 L292.3,221.5 L293.0,221.5 L293.7,221.3 L294.4,221.1 L295.1,220.7 L295.8,220.3 L296.5,219.7 L297.2,218.9 L297.9,218.1 L298.5,217.2 L299.2,216.2 L299.8,215.0 L300.4,213.8 L301.0,212.6 L301.5,211.2 L302.0,209.8 L302.5,208.3 L302.9,206.8" fill="none" stroke="#1a1a1a" stroke-width="1.2"/><path d="M304.5,211.6 L302.9,206.8 L299.0,210.0" fill="none" stroke="#1a1a1a" stroke-width="1.2"/><path d="M319.8,220.1 L320.3,220.9 L320.8,221.7 L321.3,222.3 L321.8,222.8 L322.4,223.2 L323.1,223.4 L323.7,223.5 L324.4,223.6 L325.1,223.4 L325.8,223.2 L326.5,222.9 L327.2,222.4 L327.9,221.8 L328.6,221.1 L329.3,220.3 L329.9,219.3 L330.6,218.3 L331.2,217.2 L331.9,216.0 L332.4,214.7 L333.0,213.4 L333.5,212.0 L334.0,210.5 L334.4,209.0" fill="none" stroke="#1a1a1a" stroke-width="1.2"/><path d="M335.9,213.8 L334.4,209.0 L330.5,212.1" fill="none" stroke="#1a1a1a" stroke-width="1.2"/><path d="M349.8,221.9 L350.2,222.8 L350.7,223.5 L351.2,224.1 L351.8,224.7 L352.4,225.0 L353.0,225.3 L353.7,225.4 L354.3,225.5 L355.0,225.4 L355.7,225.1 L356.4,224.8 L357.1,224.3 L357.8,223.7 L358.5,223.0 L359.2,222.2 L359.9,221.3 L360.6,220.3 L361.2,219.1 L361.9,217.9 L362.5,216.7 L363.0,215.3 L363.5,213.9 L364.0,212.5 L364.5,211.0" fill="none" stroke="#1a1a1a" stroke-width="1.2"/><path d="M365.9,215.8 L364.5,211.0 L360.5,214.1" fill="none" stroke="#1a1a1a" stroke-width="1.2"/><path d="M380.4,224.5 L380.9,225.3 L381.4,226.0 L381.9,226.6 L382.5,227.1 L383.1,227.5 L383.7,227.7 L384.4,227.9 L385.0,227.9 L385.7,227.7 L386.4,227.5 L387.1,227.1 L387.8,226.6 L388.5,226.0 L389.2,225.3 L389.9,224.4 L390.5,223.5 L391.2,222.5 L391.8,221.3 L392.4,220.1 L392.9,218.8 L393.4,217.5 L393.9,216.1 L394.4,214.6 L394.8,213.1" fill="none" stroke="#1a1a1a" stroke-width="1.2"/><path d="M396.4,217.8 L394.8,213.1 L390.9,216.3" fill="none" stroke="#1a1a1a" stroke-width="1.2"/><path d="M409.8,230.6 L410.3,231.7 L410.9,232.6 L411.6,233.3 L412.3,234.0 L413.0,234.4 L413.8,234.8 L414.6,234.9 L415.4,234.9 L416.2,234.8 L417.1,234.5 L418.0,234.0 L418.8,233.5 L419.7,232.7 L420.6,231.8 L421.4,230.8 L422.3,229.7 L423.1,228.4 L423.9,227.0 L424.6,225.5 L425.4,224.0 L426.1,222.3 L426.7,220.5 L427.3,218.7 L427.8,216.9" fill="none" stroke="#1a1a1a" stroke-width="1.2"/><path d="M429.3,221.6 L427.8,216.9 L423.9,220.0" fill="none" stroke="#1a1a1a" stroke-width="1.2"/><path d="M427.9,248.2 L429.0,248.8 L429.9,249.3 L430.9,249.6 L431.8,249.7 L432.7,249.7 L433.5,249.6 L434.3,249.3 L435.0,248.8 L435.6,248.3 L436.2,247.6 L436.7,246.7 L437.1,245.7 L437.4,244.7 L437.7,243.4 L437.9,242.1 L438.0,240.7 L438.0,239.2 L437.9,237.6 L437.8,236.0 L437.5,234.2 L437.2,232.5 L436.8,230.6 L436.3,228.8 L435.8,226.9" fill="none" stroke="#1a1a1a" stroke-width="1.2"/><path d="M439.6,230.2 L435.8,226.9 L434.2,231.7" fill="none" stroke="#1a1a1a" stroke-width="1.2"/><path d="M398.8,257.3 L399.7,257.7 L400.5,258.1 L401.2,258.3 L402.0,258.4 L402.7,258.4 L403.4,258.2 L404.0,258.0 L404.5,257.6 L405.0,257.2 L405.5,256.6 L405.9,255.9 L406.2,255.1 L406.4,254.2 L406.6,253.2 L406.7,252.1 L406.8,251.0 L406.7,249.8 L406.7,248.5 L406.5,247.2 L406.3,245.8 L406.0,244.4 L405.6,242.9 L405.2,241.4 L404.7,239.9" fill="none" stroke="#1a1a1a" stroke-width="1.2"/><path d="M408.6,243.0 L404.7,239.9 L403.2,244.7" fill="none" stroke="#1a1a1a" stroke-width="1.2"/><path d="M369.8,271.1 L370.7,271.5 L371.5,271.9 L372.2,272.1 L373.0,272.2 L373.7,272.2 L374.4,272.0 L375.0,271.8 L375.5,271.4 L376.0,271.0 L376.5,270.4 L376.9,269.7 L377.2,268.9 L377.4,268.0 L377.6,267.0 L377.7,265.9 L377.8,264.8 L377.7,263.6 L377.7,262.3 L377.5,261.0 L377.3,259.6 L377.0,258.2 L376.6,256.7 L376.2,255.2 L375.7,253.7" fill="none" stroke="#1a1a1a" stroke-width="1.2"/><path d="M379.6,256.8 L375.7,253.7 L374.2,258.5" fill="none" stroke="#1a1a1a" stroke-width="1.2"/><path d="M325.5,101.4 L325.4,102.3 L325.5,103.1 L325.5,103.9 L325.7,104.6 L326.0,105.2 L326.4,105.7 L326.8,106.1 L327.3,106.5 L327.9,106.8 L328.6,106.9 L329.4,107.0 L330.2,107.0 L331.0,106.9 L332.0,106.7 L333.0,106.4 L334.0,106.0 L335.0,105.6 L336.1,105.0 L337.2,104.4 L338.4,103.7 L339.5,102.9 L340.7,102.0 L341.8,101.1 L342.9,100.1" fill="none" stroke="#1a1a1a" stroke-width="1.2"/><path d="M341.6,104.9 L342.9,100.1 L338.0,100.6" fill="none" stroke="#1a1a1a" stroke-width="1.2"/><path d="M347.8,120.3 L347.8,121.2 L347.8,122.0 L347.9,122.8 L348.1,123.5 L348.4,124.1 L348.8,124.6 L349.2,125.0 L349.7,125.4 L350.4,125.6 L351.0,125.8 L351.8,125.8 L352.6,125.8 L353.5,125.7 L354.4,125.5 L355.4,125.1 L356.4,124.7 L357.4,124.2 L358.5,123.7 L359.6,123.0 L360.7,122.3 L361.8,121.4 L363.0,120.6 L364.1,119.6 L365.2,118.6" fill="none" stroke="#1a1a1a" stroke-width="1.2"/><path d="M363.9,123.5 L365.2,118.6 L360.2,119.2" fill="none" stroke="#1a1a1a" stroke-width="1.2"/><path d="M373.0,143.0 L372.9,143.9 L373.0,144.7 L373.1,145.5 L373.3,146.2 L373.6,146.8 L374.0,147.3 L374.5,147.7 L375.0,148.0 L375.7,148.2 L376.4,148.4 L377.1,148.4 L377.9,148.3 L378.8,148.2 L379.7,147.9 L380.7,147.6 L381.7,147.2 L382.7,146.6 L383.7,146.0 L384.8,145.3 L385.9,144.5 L387.0,143.7 L388.1,142.8 L389.2,141.8 L390.3,140.7" fill="none" stroke="#1a1a1a" stroke-width="1.2"/><path d="M389.2,145.6 L390.3,140.7 L385.3,141.5" fill="none" stroke="#1a1a1a" stroke-width="1.2"/><path d="M394.4,161.7 L394.3,162.6 L394.4,163.5 L394.5,164.2 L394.7,164.9 L395.0,165.5 L395.4,166.0 L395.9,166.4 L396.4,166.8 L397.0,167.0 L397.7,167.2 L398.5,167.2 L399.3,167.1 L400.2,167.0 L401.1,166.7 L402.0,166.4 L403.0,166.0 L404.1,165.5 L405.1,164.8 L406.2,164.2 L407.3,163.4 L408.4,162.5 L409.5,161.6 L410.6,160.7 L411.7,159.6" fill="none" stroke="#1a1a1a" stroke-width="1.2"/><path d="M410.6,164.5 L411.7,159.6 L406.7,160.4" fill="none" stroke="#1a1a1a" stroke-width="1.2"/><path d="M415.7,180.9 L415.7,181.9 L415.8,182.7 L415.9,183.4 L416.2,184.1 L416.5,184.7 L416.9,185.2 L417.4,185.6 L417.9,185.9 L418.6,186.1 L419.3,186.3 L420.0,186.3 L420.8,186.2 L421.7,186.0 L422.6,185.8 L423.5,185.4 L424.5,184.9 L425.5,184.4 L426.6,183.7 L427.7,183.0 L428.7,182.2 L429.8,181.3 L430.9,180.4 L431.9,179.4 L433.0,178.3" fill="none" stroke="#1a1a1a" stroke-width="1.2"/><path d="M432.0,183.2 L433.0,178.3 L428.1,179.2" fill="none" stroke="#1a1a1a" stroke-width="1.2"/><polygon transform="translate(387.3,47.6) rotate(-42.5)" points="0,0 -15.9,-16.4 -15.9,-7.9 -36.3,-7.9 -36.3,7.9 -15.9,7.9 -15.9,16.4" fill="#f20d0d" stroke="#5a3050" stroke-width="0.8"/><polygon transform="translate(195.5,93.4) rotate(-137)" points="0,0 -15.9,-16.4 -15.9,-7.9 -36.3,-7.9 -36.3,7.9 -15.9,7.9 -15.9,16.4" fill="#f20d0d" stroke="#5a3050" stroke-width="0.8"/><path d="M356.5,77.3 L385.5,77.3 L385.5,74 L392.8,78.9 L385.5,83.8 L385.5,80.5 L356.5,80.5 Z" fill="#000"/><text x="376.4" y="44" font-family="Liberation Sans" font-weight="bold" stroke="#000" stroke-width="0.7" font-size="20">F</text><text x="391.3" y="46.4" font-family="Liberation Sans" font-weight="bold" stroke="#000" stroke-width="0.7" font-size="12.5">1</text><text x="393.2" y="82.3" font-family="Liberation Sans" font-weight="bold" stroke="#000" stroke-width="0.7" font-size="20">F</text><text x="407" y="84.5" font-family="Liberation Sans" font-weight="bold" stroke="#000" stroke-width="0.7" font-size="12.5">1X</text><text x="190.6" y="87.4" font-family="Liberation Sans" font-weight="bold" stroke="#000" stroke-width="0.7" font-size="20">F</text><text x="205" y="89.7" font-family="Liberation Sans" font-weight="bold" stroke="#000" stroke-width="0.7" font-size="12.5">2</text><text x="299.5" y="40.8" font-family="Liberation Sans" font-weight="bold" stroke="#000" stroke-width="0.7" font-size="15.5">e-1</text><text x="310" y="117.4" font-family="Liberation Sans" font-weight="bold" stroke="#000" stroke-width="0.7" font-size="15.5">e-2</text><text x="233.8" y="151.5" font-family="Liberation Sans" font-weight="bold" stroke="#000" stroke-width="0.7" font-size="15.5">e-3</text><text x="412.8" y="125.9" font-family="Liberation Sans" font-weight="bold" stroke="#000" stroke-width="0.7" font-size="15.5">e-4</text><line x1="305.8" y1="51" x2="321" y2="66" stroke="#333" stroke-width="0.8"/><line x1="419" y1="136.5" x2="394" y2="166" stroke="#333" stroke-width="0.8"/><ellipse cx="294.5" cy="49.4" rx="11" ry="8.8" fill="none" stroke="#e8141c" stroke-width="2"/><path d="M287,43.2 L302,55.6 M302,43.2 L287,55.6" stroke="#e8141c" stroke-width="1.6"/><ellipse cx="321.8" cy="75" rx="10.6" ry="8.9" fill="none" stroke="#e8141c" stroke-width="2"/><circle cx="322.3" cy="75" r="2.4" fill="#e8141c"/><ellipse cx="418.7" cy="136.3" rx="10.4" ry="9" fill="none" stroke="#e8141c" stroke-width="2"/><circle cx="418.9" cy="136.3" r="2.4" fill="#e8141c"/><ellipse cx="394" cy="164.3" rx="10.4" ry="9" fill="none" stroke="#e8141c" stroke-width="2"/><path d="M386.8,158.3 L401.2,170.3 M401.2,158.3 L386.8,170.3" stroke="#e8141c" stroke-width="1.6"/><text x="328.2" y="70.8" font-family="Liberation Sans" font-weight="bold" stroke="#e8141c" stroke-width="0.5" font-size="14" fill="#e8141c">B</text><text x="339.8" y="72.9" font-family="Liberation Sans" font-weight="bold" stroke="#e8141c" stroke-width="0.5" font-size="9" fill="#e8141c">1</text><path d="M327.6,56.8 L337,56.8" stroke="#e8141c" stroke-width="1.5"/><path d="M335.5,54 L340,56.8 L335.5,59.6 Z" fill="#e8141c"/><text x="367.6" y="174.8" font-family="Liberation Sans" font-weight="bold" stroke="#e8141c" stroke-width="0.5" font-size="14" fill="#e8141c">B</text><text x="379.6" y="176.6" font-family="Liberation Sans" font-weight="bold" stroke="#e8141c" stroke-width="0.5" font-size="9" fill="#e8141c">2</text><path d="M369.4,159.3 L378.5,159.3" stroke="#e8141c" stroke-width="1.5"/><path d="M377,156.5 L381.5,159.3 L377,162.1 Z" fill="#e8141c"/><g transform="translate(384.5,104.7) rotate(-141.7)"><path d="M0,-2.7 L17.0,-2.7 L17.0,-6.2 L26.5,0 L17.0,6.2 L17.0,2.7 L0,2.7 Z" fill="#000"/></g><ellipse cx="384.5" cy="104.7" rx="13" ry="12.4" fill="#000" stroke="#22385a" stroke-width="0.8"/><text x="379.4" y="110.9" font-family="Liberation Sans" font-weight="bold" stroke="#f5f530" stroke-width="0.5" font-size="17.5" fill="#f5f530">i</text><text x="384.4" y="112.1" font-family="Liberation Sans" font-weight="bold" stroke="#f5f530" stroke-width="0.3" font-size="11.5" fill="#f5f530">1</text><g transform="translate(240.8,82) rotate(-48.0)"><path d="M0,-2.7 L16.2,-2.7 L16.2,-6.2 L25.7,0 L16.2,6.2 L16.2,2.7 L0,2.7 Z" fill="#000"/></g><ellipse cx="240.8" cy="82" rx="13" ry="12.4" fill="#000" stroke="#22385a" stroke-width="0.8"/><text x="237.6" y="88.2" font-family="Liberation Sans" font-weight="bold" stroke="#f5f530" stroke-width="0.5" font-size="17.5" fill="#f5f530">i</text><text x="242.1" y="89.4" font-family="Liberation Sans" font-weight="bold" stroke="#f5f530" stroke-width="0.3" font-size="11.5" fill="#f5f530">2</text><g fill="none" stroke="#5b93d3" stroke-width="1.2"><path d="M255.1,118.5 C257,135 270,150 294.6,152.4"/><path d="M251.2,124 L255.1,117.8 L259,122.8"/><path d="M335.6,151 C355,148 368,136 370.2,118.6"/><path d="M366.2,123.5 L370.2,117.9 L373.6,123.8"/></g><text x="298" y="153.5" font-family="Liberation Sans" font-size="14.6" fill="#3d7cc4" stroke="#3d7cc4" stroke-width="0.35">β=90</text><text x="333.2" y="147.9" font-family="Liberation Sans" font-size="13" fill="#3d7cc4" stroke="#3d7cc4" stroke-width="0.3">o</text><path d="M498.9,88.2 L498.9,65 C499,62 501,60.5 503,60 C507,58.8 511,57.5 514.4,54.3 C516,51 516.3,48 516.8,45 C517.3,41 517.6,37 519.5,34.5 C521,33 524,32.8 525.5,35 C527,38 527,44 527.2,48 C527.3,51 527.4,53 528.2,54.8 C532,55.5 536,54 541,52.8 C548,51 555,49 560.5,48 C563.5,47.6 565.5,49.3 564.5,51.3 C563.5,53 561,53.5 558,55 C552,57.5 546,60.5 540,63.5 C538.5,64.5 538.3,65.5 540,66.5 C545,68.5 551,70.8 557,73 C560,74.2 563,75.5 565,77 C567,78.8 566.3,81.6 563.5,82 C560,82.4 556,82 553,81.8 C550.5,81.6 548.5,81.3 547,81.2 C548,84 547.8,87.5 545.5,89.5 C543.5,91 541.5,91.2 539,91.3 L528,91.5 C520,91.3 512,91 505,90 C502,89.6 500,89.1 498.9,88.2 Z" fill="#f4c6b1" stroke="#cf9885" stroke-width="0.8"/><path d="M528.5,75.8 C535,75.6 541,75.8 545,76.4 C547.5,77.3 548,80 547,81.2 M529.3,85.5 C535,85.4 541,85.3 545.5,85.8 M511.2,74.8 C514,71 518,69 522,67.8 M527.6,54.5 C526,58 525,62 524.5,65" fill="none" stroke="#cf9885" stroke-width="0.7"/><g fill="none" stroke-width="1.6" stroke-linecap="round"><path d="M522.2,66 L522.2,10.5" stroke="#b3322b"/><path d="M518.2,16 L522.2,10 L526.2,16" stroke="#b3322b"/><path d="M522.2,66 L584.5,41" stroke="#6c7fb2"/><path d="M577.5,39.5 L585,40.8 L580,46.5" stroke="#6c7fb2"/><path d="M522.2,66 L582,83.2" stroke="#3f6c6c"/><path d="M577,78.5 L582.5,83.4 L575.5,85.5" stroke="#3f6c6c"/></g><g font-family="Liberation Sans" font-size="8" fill="#666"><text x="529" y="14">F</text><text x="534.6" y="14.5" font-size="5">m</text><text x="580" y="34.5">B</text><text x="579.5" y="74.5">v</text></g><g stroke="#555" stroke-width="0.6"><path d="M529,6.5 L537,6.5 M535.5,5.3 L537,6.5 L535.5,7.7 M580,27 L586,27 M584.6,25.9 L586,27 L584.6,28.1 M579.3,67.5 L585,67.5 M583.6,66.4 L585,67.5 L583.6,68.6"/></g><ellipse cx="165" cy="200.3" rx="22.3" ry="19.2" fill="#000"/><text x="164.3" y="207.2" text-anchor="middle" font-family="Liberation Sans" font-weight="bold" font-size="11" letter-spacing="0.4" stroke="#fff" stroke-width="0.4" fill="#fff">P-1</text><ellipse cx="459.7" cy="213.8" rx="21.3" ry="20.8" fill="#000"/><text x="461" y="219" text-anchor="middle" font-family="Liberation Sans" font-weight="bold" font-size="12" stroke="#fff" stroke-width="0.4" fill="#fff">P-2</text></svg>
<div class="ln" style="top:328.7px"><u class="g"><b>Fig 2.</b></u>&nbsp; <u class="g">Coulomb repulsion between two protons.</u> The maximum interaction</div><div class="ln" style="top:350.1px">between two line forces occurs when their directions are orthogonal. F<sub>1</sub> is</div><div class="ln" style="top:371.5px">the repulsion force on the <u class="r">electriciton</u> e-2, due to current i<sub>1</sub> of <u class="r">electricitons</u></div><div class="ln" style="top:392.9px">interacting with the magnetic field B<sub>1</sub> of the <u class="r">electriciton</u> e-1, according to</div><div class="ln" style="top:414.7px">Fleming’s left-hand rule.&nbsp; After fraction of seconds, when <u class="r">electriciton</u> e-3</div><div class="ln" style="top:435.7px">will interact with field B<sub>2</sub> of <u class="r">electriciton</u> e-4, repulsion forceF<sub>2</sub> will act on</div><div class="ln" style="top:458.1px">e-3.&nbsp; The repulsion between the two protons is the sum of all forces F<sub>1X</sub> due</div><div class="ln last" style="top:478.5px">to each <u class="r">electriciton</u>.</div>
</body></html>
